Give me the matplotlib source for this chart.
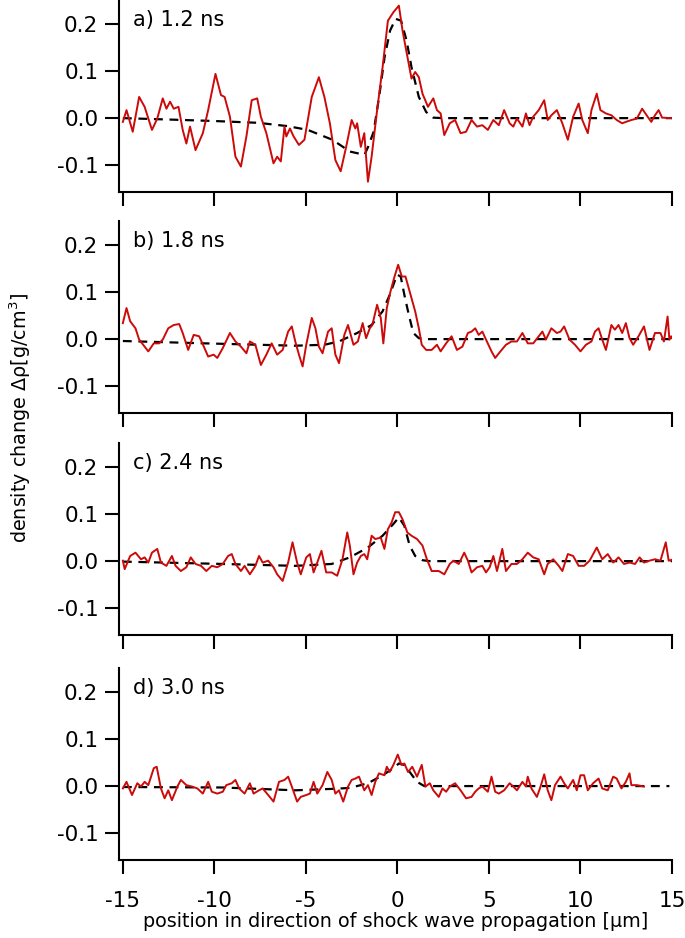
import matplotlib
matplotlib.use("Agg")
import matplotlib.pyplot as plt
from matplotlib.ticker import FormatStrFormatter

plt.rcParams['font.family'] = ['DejaVu Sans']
plt.rcParams['axes.unicode_minus'] = False

# panel a) 1.2 ns
a_x = [-15.0, -14.80, -14.46, -14.11, -13.81, -13.41, -13.12, -12.82, -12.62, -12.42,
       -12.22, -11.96, -11.73, -11.53, -11.33, -11.03, -10.63, -10.34, -9.94, -9.64,
       -9.44, -9.15, -8.85, -8.55, -8.25, -7.96, -7.66, -7.46, -7.16, -6.77,
       -6.57, -6.37, -6.17, -6.07, -5.87, -5.67, -5.38, -5.08, -4.68, -4.29,
       -3.99, -3.69, -3.39, -3.10, -2.80, -2.50, -2.30, -2.20, -2.00, -1.81,
       -1.61, -1.41, -1.11, -0.81, -0.52, -0.22, 0.08, 0.28, 0.48, 0.77,
       0.97, 1.17, 1.37, 1.67, 1.96, 2.16, 2.36, 2.56, 2.86, 3.15,
       3.45, 3.75, 4.05, 4.35, 4.64, 4.94, 5.24, 5.54, 5.83, 6.13,
       6.33, 6.53, 6.83, 7.02, 7.22, 7.42, 7.72, 8.02, 8.21, 8.41,
       8.71, 9.01, 9.31, 9.60, 9.90, 10.10, 10.40, 10.60, 10.89, 11.09,
       11.39, 11.69, 11.98, 12.28, 12.48, 12.78, 13.08, 13.37, 13.67, 13.87,
       14.07, 14.27, 14.46, 15.0]
a_y = [-0.008, 0.017, -0.029, 0.045, 0.024, -0.025, -0.001, 0.042, 0.020, 0.035,
       0.020, 0.024, -0.025, -0.054, -0.018, -0.068, -0.032, 0.017, 0.094, 0.049,
       0.045, 0.003, -0.082, -0.103, -0.039, 0.038, 0.042, 0.003, -0.032, -0.096,
       -0.082, -0.092, -0.018, -0.039, -0.022, -0.039, -0.057, -0.046, 0.045, 0.087,
       0.045, -0.011, -0.089, -0.113, -0.061, -0.004, -0.022, -0.011, -0.061, -0.032,
       -0.135, -0.082, 0.017, 0.108, 0.207, 0.225, 0.239, 0.186, 0.144, 0.084,
       0.098, 0.087, 0.052, 0.024, 0.042, 0.017, 0.010, -0.036, -0.011, -0.004,
       -0.032, -0.029, -0.004, -0.018, -0.015, -0.025, -0.004, -0.015, 0.017, -0.011,
       -0.018, -0.001, -0.018, 0.010, -0.015, 0.003, 0.017, 0.038, -0.004, 0.006,
       0.017, -0.011, -0.046, 0.003, 0.031, -0.004, -0.032, 0.017, 0.052, 0.017,
       0.010, 0.006, -0.004, -0.011, -0.008, -0.004, -0.001, 0.020, 0.003, -0.008,
       0.006, 0.017, 0.001, 0.0]
a_fit_x = [-15.0, -12.5, -10.1, -7.6, -6.0, -4.9, -3.55, -2.6, -1.8, -1.6, -1.3, -1.0,
           -0.7, -0.4, -0.1, 0.2, 0.5, 0.77, 1.17, 1.57, 1.96, 2.5, 15.0]
a_fit_y = [0.0, -0.003, -0.006, -0.010, -0.017, -0.025, -0.046, -0.071, -0.078, -0.061,
           -0.029, 0.045, 0.130, 0.186, 0.211, 0.207, 0.165, 0.108, 0.045, 0.013,
           0.001, 0.0, 0.0]

# panel b) 1.8 ns
b_x = [-15.0, -14.80, -14.60, -14.31, -14.11, -13.61, -13.31, -13.02, -12.82, -12.52,
       -12.22, -11.92, -11.73, -11.43, -11.13, -10.83, -10.54, -10.34, -10.04, -9.84,
       -9.54, -9.15, -8.85, -8.55, -8.25, -8.06, -7.76, -7.46, -7.16, -6.87,
       -6.57, -6.27, -5.97, -5.77, -5.58, -5.38, -5.18, -4.98, -4.68, -4.48,
       -4.29, -4.09, -3.79, -3.59, -3.39, -3.19, -2.90, -2.70, -2.40, -2.16,
       -1.90, -1.71, -1.51, -1.37, -1.11, -0.91, -0.77, -0.58, -0.38, -0.18,
       0.04, 0.24, 0.44, 0.67, 0.97, 1.17, 1.33, 1.57, 1.87, 2.16,
       2.36, 2.66, 2.96, 3.25, 3.55, 3.85, 4.05, 4.25, 4.44, 4.64,
       4.84, 5.14, 5.34, 5.63, 5.93, 6.23, 6.53, 6.83, 7.12, 7.42,
       7.72, 7.92, 8.11, 8.41, 8.71, 8.91, 9.11, 9.40, 9.70, 10.00,
       10.30, 10.60, 10.79, 10.99, 11.19, 11.39, 11.69, 11.88, 12.08, 12.28,
       12.48, 12.68, 12.88, 13.17, 13.47, 13.77, 14.07, 14.37, 14.56, 14.76,
       14.86, 14.95, 15.0]
b_y = [0.034, 0.066, 0.038, 0.023, -0.001, -0.026, -0.009, -0.009, -0.001, 0.023,
       0.030, 0.032, 0.013, -0.023, 0.009, 0.006, -0.019, -0.037, -0.033, -0.040,
       -0.019, 0.013, -0.005, -0.016, -0.030, -0.005, -0.012, -0.055, -0.033, -0.009,
       -0.033, -0.023, 0.016, 0.027, -0.005, -0.033, -0.058, -0.012, 0.045, 0.023,
       -0.016, -0.030, 0.016, 0.023, -0.033, -0.051, 0.009, 0.030, -0.012, -0.005,
       0.034, 0.002, 0.023, 0.030, 0.073, 0.045, -0.009, 0.066, 0.101, 0.130,
       0.158, 0.133, 0.133, 0.101, 0.059, 0.023, -0.012, -0.023, -0.023, -0.012,
       -0.026, -0.009, 0.006, -0.023, -0.016, 0.013, 0.016, 0.023, 0.009, 0.016,
       -0.001, -0.026, -0.040, -0.026, -0.012, -0.005, -0.005, 0.013, -0.009, -0.009,
       0.006, 0.016, -0.001, 0.023, 0.013, 0.016, 0.027, -0.001, -0.012, -0.026,
       -0.012, -0.005, 0.016, 0.023, -0.001, -0.023, 0.030, 0.020, 0.030, 0.013,
       0.034, 0.002, -0.012, 0.006, 0.027, -0.023, 0.013, 0.013, -0.005, 0.048,
       -0.001, 0.006, 0.002]
b_fit_x = [-15.0, -10.54, -5.58, -3.99, -3.19, -2.20, -1.41, -0.81, -0.42, -0.02,
           0.18, 0.38, 0.62, 0.87, 1.17, 1.57, 15.0]
b_fit_y = [-0.004, -0.009, -0.014, -0.012, -0.005, 0.013, 0.030, 0.059, 0.094, 0.137,
           0.133, 0.094, 0.052, 0.013, 0.002, 0.0, 0.0]

# panel c) 2.4 ns
c_x = [-15.0, -14.90, -14.60, -14.31, -14.01, -13.81, -13.61, -13.41, -13.12, -12.92,
       -12.62, -12.32, -12.12, -11.83, -11.53, -11.29, -11.03, -10.73, -10.44, -10.14,
       -9.84, -9.54, -9.25, -9.05, -8.85, -8.55, -8.35, -8.06, -7.76, -7.56,
       -7.36, -7.06, -6.77, -6.57, -6.27, -5.97, -5.73, -5.48, -5.28, -4.98,
       -4.78, -4.58, -4.38, -4.15, -3.89, -3.59, -3.29, -3.00, -2.74, -2.60,
       -2.40, -2.20, -2.00, -1.81, -1.65, -1.41, -1.21, -0.91, -0.71, -0.52,
       -0.32, -0.12, 0.08, 0.28, 0.54, 0.77, 1.07, 1.37, 1.61, 1.87,
       2.26, 2.56, 2.86, 3.06, 3.35, 3.65, 3.85, 4.05, 4.35, 4.64,
       4.84, 5.04, 5.24, 5.44, 5.73, 5.93, 6.23, 6.53, 6.83, 7.12,
       7.42, 7.72, 8.02, 8.21, 8.51, 8.81, 9.01, 9.31, 9.60, 9.90,
       10.20, 10.50, 10.89, 11.19, 11.49, 11.79, 12.08, 12.38, 12.68, 12.98,
       13.23, 13.47, 13.77, 14.07, 14.37, 14.66, 14.82, 15.0]
c_y = [0.001, -0.017, 0.011, 0.018, 0.004, 0.008, -0.003, 0.018, 0.026, -0.003,
       -0.010, 0.011, -0.010, -0.021, -0.013, 0.008, -0.006, -0.010, -0.021, -0.010,
       -0.013, -0.006, 0.011, 0.015, -0.006, -0.021, -0.010, -0.028, -0.010, 0.011,
       -0.003, 0.001, -0.013, -0.028, -0.042, -0.003, 0.040, -0.003, -0.028, 0.008,
       0.015, -0.024, -0.003, 0.022, -0.024, -0.024, -0.031, 0.004, 0.061, 0.033,
       -0.028, -0.003, 0.011, 0.015, 0.004, 0.054, 0.047, 0.050, 0.026, 0.068,
       0.082, 0.104, 0.104, 0.089, 0.061, 0.054, 0.047, 0.033, 0.004, -0.021,
       -0.021, -0.028, -0.006, 0.001, -0.006, 0.018, 0.001, -0.024, -0.013, -0.010,
       -0.024, -0.013, 0.011, -0.021, 0.026, -0.021, -0.006, -0.006, 0.004, 0.018,
       0.008, 0.004, -0.028, -0.006, 0.004, -0.010, -0.021, 0.015, 0.011, -0.010,
       -0.010, 0.001, 0.029, 0.004, 0.015, -0.003, 0.008, -0.006, -0.003, -0.006,
       0.008, -0.003, 0.001, 0.004, 0.001, 0.040, 0.001, 0.003]
c_fit_x = [-15.0, -9.54, -5.58, -3.59, -2.60, -1.61, -0.81, -0.22, 0.08, 0.38,
           0.67, 0.97, 1.37, 1.77, 15.0]
c_fit_y = [-0.001, -0.006, -0.010, -0.006, 0.008, 0.029, 0.054, 0.079, 0.093, 0.075,
           0.033, 0.011, 0.002, 0.0, 0.0]

# panel d) 3.0 ns
d_x = [-15.0, -14.80, -14.50, -14.21, -14.01, -13.81, -13.61, -13.31, -13.15, -12.92,
       -12.72, -12.52, -12.32, -12.02, -11.83, -11.53, -11.23, -10.93, -10.63, -10.34,
       -10.14, -9.84, -9.54, -9.35, -9.05, -8.85, -8.65, -8.35, -8.06, -7.86,
       -7.56, -7.36, -7.06, -6.77, -6.47, -6.17, -5.97, -5.77, -5.48, -5.28,
       -4.98, -4.78, -4.58, -4.38, -4.09, -3.83, -3.59, -3.39, -3.19, -2.96,
       -2.70, -2.50, -2.30, -2.10, -1.81, -1.61, -1.41, -1.21, -1.01, -0.71,
       -0.58, -0.42, -0.22, 0.02, 0.22, 0.38, 0.58, 0.81, 1.07, 1.33,
       1.53, 1.77, 1.96, 2.26, 2.46, 2.66, 2.86, 3.15, 3.45, 3.75,
       4.05, 4.25, 4.44, 4.64, 4.94, 5.14, 5.34, 5.54, 5.83, 6.13,
       6.33, 6.53, 6.83, 7.02, 7.12, 7.32, 7.62, 7.82, 8.02, 8.21,
       8.41, 8.61, 8.91, 9.11, 9.31, 9.60, 9.80, 10.00, 10.20, 10.40,
       10.69, 10.99, 11.19, 11.49, 11.79, 11.98, 12.24, 12.48, 12.68, 12.78,
       13.08, 13.47]
d_y = [-0.005, 0.009, -0.019, 0.006, -0.001, 0.009, 0.002, 0.038, 0.041, -0.005,
       -0.026, -0.009, -0.030, -0.001, 0.013, 0.002, -0.001, -0.005, -0.016, 0.009,
       -0.012, -0.016, -0.012, 0.002, 0.006, 0.013, -0.005, -0.016, 0.006, -0.016,
       -0.009, -0.005, -0.019, -0.033, 0.009, 0.013, 0.020, -0.001, -0.033, -0.023,
       -0.019, -0.016, 0.009, -0.016, 0.002, 0.030, 0.013, -0.016, -0.009, -0.033,
       -0.001, 0.013, 0.016, 0.020, -0.009, 0.002, -0.019, 0.009, 0.027, 0.023,
       0.041, 0.030, 0.045, 0.067, 0.045, 0.048, 0.030, 0.041, 0.020, 0.045,
       -0.001, 0.006, -0.009, -0.023, -0.005, -0.012, -0.001, 0.006, -0.009, -0.026,
       -0.023, -0.012, -0.005, -0.001, -0.012, 0.020, -0.012, -0.016, -0.009, 0.006,
       -0.001, -0.009, 0.009, -0.001, 0.020, -0.005, -0.023, -0.001, 0.025, -0.009,
       -0.030, 0.002, 0.020, 0.006, -0.005, 0.013, -0.009, 0.023, 0.023, -0.009,
       0.006, 0.016, -0.005, -0.009, 0.020, 0.016, -0.005, 0.009, 0.027, 0.002,
       0.002, -0.001]
d_fit_x = [-15.0, -9.54, -5.58, -3.59, -2.60, -1.61, -0.81, -0.22, 0.08, 0.38,
           0.67, 1.07, 1.47, 14.86]
d_fit_y = [-0.002, -0.003, -0.009, -0.006, -0.004, 0.006, 0.023, 0.038, 0.048, 0.045,
           0.030, 0.009, 0.0, 0.0]

labels = ['a) 1.2 ns', 'b) 1.8 ns', 'c) 2.4 ns', 'd) 3.0 ns']
panels = [(a_x, a_y, a_fit_x, a_fit_y), (b_x, b_y, b_fit_x, b_fit_y),
          (c_x, c_y, c_fit_x, c_fit_y), (d_x, d_y, d_fit_x, d_fit_y)]
bottoms = [0.7953, 0.5597, 0.3230, 0.0832]

fig = plt.figure(figsize=(6.85, 9.38), dpi=100)
axes = []
for i, (x, y, fx, fy) in enumerate(panels):
    ax = fig.add_axes([0.174, bottoms[i], 0.807, 0.2047])
    ax.plot(fx, fy, color='black', lw=1.6, ls=(0, (4, 3)))
    ax.plot(x, y, color='#cc0a0a', lw=1.4)
    ax.set_xlim(-15.2, 15)
    ax.set_ylim(-0.157, 0.251)
    ax.set_xticks([-15, -10, -5, 0, 5, 10, 15])
    ax.set_yticks([-0.1, 0.0, 0.1, 0.2])
    ax.yaxis.set_major_formatter(FormatStrFormatter('%.1f'))
    for s in ['top', 'right']:
        ax.spines[s].set_visible(False)
    for s in ['left', 'bottom']:
        ax.spines[s].set_linewidth(1.5)
    ax.tick_params(direction='out', length=10, width=1.5, labelsize=15.5)
    ax.tick_params(axis='y', pad=5)
    ax.tick_params(axis='x', pad=12)
    if i < 3:
        ax.tick_params(axis='x', labelbottom=False)
    ax.text(-14.45, 0.208, labels[i], fontsize=15, ha='left', va='center')
    axes.append(ax)

axes[-1].set_xlabel('position in direction of shock wave propagation [\u03bcm]',
                    fontsize=13.8, labelpad=1)
fig.text(0.03, 0.555, 'density change \u0394\u03c1[g/cm$^3$]', rotation=90,
         fontsize=13.8, ha='center', va='center')

fig.savefig('out.png', dpi=100)
